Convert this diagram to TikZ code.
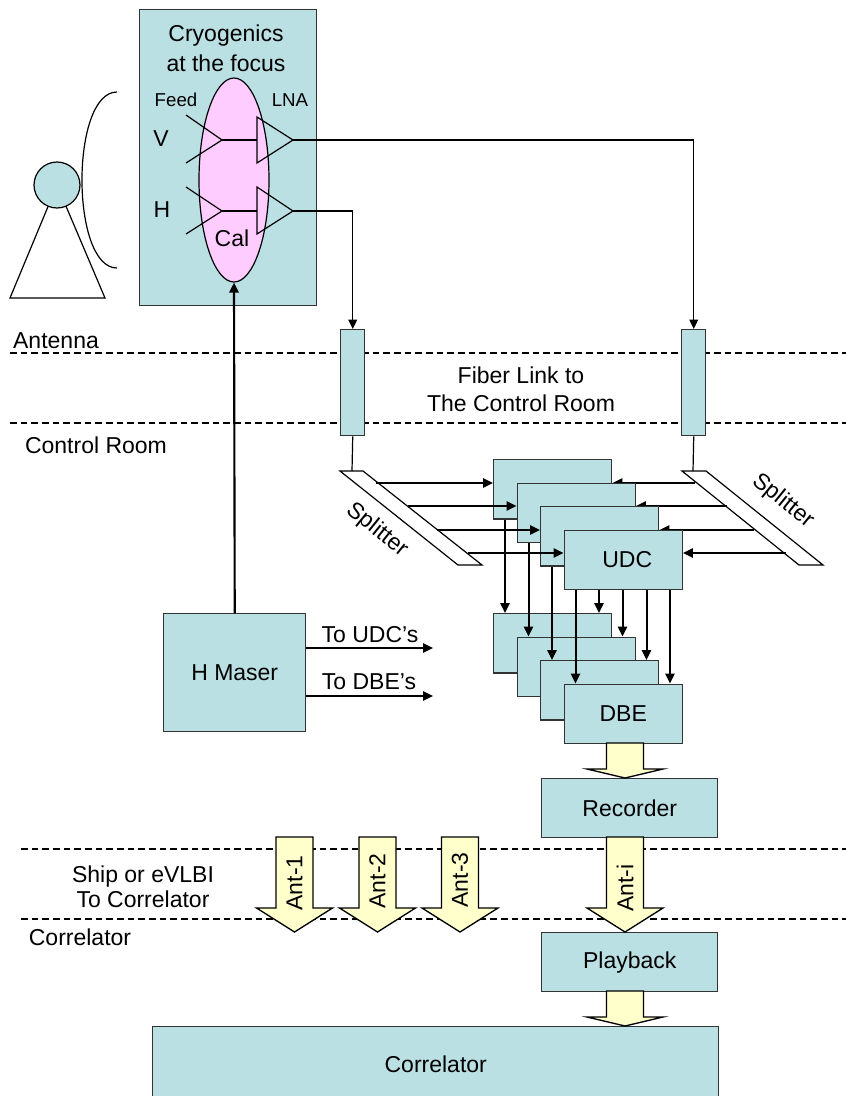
\documentclass[tikz,border=0pt]{standalone}
\usepackage{fontspec}
\setmainfont{Liberation Sans}
\usetikzlibrary{shapes.geometric,arrows.meta,calc}
\definecolor{boxblue}{HTML}{BBE0E3}
\definecolor{pinkc}{HTML}{FFCCFF}
\definecolor{yell}{HTML}{FFFFCC}
\definecolor{edgec}{HTML}{333333}
\newcommand\barrow[4]{\draw[yarrow] (#1-18.5,#2) -- (#1+18.5,#2) -- (#1+18.5,#3) -- (#1+38,#3) -- (#1,#4) -- (#1-38,#3) -- (#1-18.5,#3) -- cycle;}
\begin{document}
\begin{tikzpicture}[x=0.75pt,y=-0.75pt,
  box/.style={draw=edgec, line width=1.1pt, fill=boxblue, inner sep=0pt, anchor=north west, font=\fontsize{17.25}{20}\selectfont},
  lbl/.style={font=\fontsize{17.25}{21}\selectfont, inner sep=0pt, align=center},
  smalltxt/.style={font=\fontsize{14}{16}\selectfont, inner sep=0pt},
  arr/.style={line width=1.5pt, -{Triangle[length=7.5pt,width=7pt]}},
  tarr/.style={line width=1pt, -{Triangle[length=7pt,width=6.5pt]}},
  thinline/.style={line width=0.9pt},
  sepline/.style={line width=0.9pt, dash pattern=on 5pt off 3pt},
  yarrow/.style={draw=black, line width=1pt, fill=yell}
]
\useasboundingbox (0,0) rectangle (846,1096);

% separators
\draw[sepline] (10,353) -- (846,353);
\draw[sepline] (10,423) -- (846,423);
\draw[sepline] (21,849) -- (846,849);
\draw[sepline] (21,919) -- (846,919);

% region labels
\node[lbl] (lant) at (56,341) {Antenna};
\node[lbl] (lctrl) at (96,445) {Control Room};
\node[lbl, font=\fontsize{17.25}{18.75}\selectfont] (lship) at (143,887) {Ship or eVLBI\\To Correlator};
\node[lbl] (lcorr) at (80,937) {Correlator};
\node[lbl, font=\fontsize{17.25}{21}\selectfont] (lfiber) at (521,389) {Fiber Link to\\The Control Room};

% antenna
\coordinate (apex) at (57,185);
\draw[thinline] (10,298) -- (apex) -- (105,298) -- cycle;
\node[circle, draw=black, line width=0.9pt, fill=boxblue, minimum size=34.5pt, inner sep=0pt] (head) at (apex) {};
\draw[thinline] (117,92) .. controls (70.3,92) and (70.3,268) .. (117,268);

% cryogenics box
\node[box, minimum width=132.75pt, minimum height=222pt] (cryo) at (139,9) {};
\node[lbl, font=\fontsize{17.25}{22.5}\selectfont] (cryotxt) at (226,48) {Cryogenics\\at the focus};
\node[ellipse, draw=black, line width=0.9pt, fill=pinkc, minimum width=52.5pt, minimum height=153pt, inner sep=0pt] (cal) at (234,180) {};
\node[smalltxt] (feedtxt) at (176,100) {Feed};
\node[smalltxt] (lnatxt) at (290,100) {LNA};
\node[lbl] (vtxt) at (161,139) {V};
\node[lbl] (htxt) at (162,210) {H};
\node[lbl] (caltxt) at (232,238) {Cal};
% feeds and LNAs
\draw[thinline] (186,115) -- (222,140) -- (186,163);
\draw[thinline] (222,140) -- (257,140);
\draw[thinline] (257,117) -- (257,163) -- (293,140) -- cycle;
\draw[thinline] (186,187) -- (222,211) -- (186,234);
\draw[thinline] (222,211) -- (257,211);
\draw[thinline] (257,187) -- (257,234) -- (293,211) -- cycle;
\coordinate (lnaV) at (293,140);
\coordinate (lnaH) at (293,211);

% fiber link boxes
\node[box, minimum width=18pt, minimum height=79.5pt] (fibL) at (340,329) {};
\node[box, minimum width=18pt, minimum height=79.5pt] (fibR) at (681,329) {};
\draw[tarr] (lnaV) -| (fibR.north);
\draw[tarr] (lnaH) -| (fibL.north);

% splitters
\draw[thinline, fill=white] (340,471) -- (363,471) -- (482,565) -- (458,565) -- cycle;
\draw[thinline, fill=white] (682,471) -- (706,471) -- (823,565) -- (799,565) -- cycle;
\coordinate (lsTop) at (352,471);
\coordinate (rsTop) at (693,471);
\draw[thinline] (fibL.south) -- (lsTop);
\draw[thinline] (fibR.south) -- (rsTop);
\node[lbl, rotate=-39] (lsplit) at (377,530) {Splitter};
\node[lbl, rotate=-39] (rsplit) at (783,501) {Splitter};

\coordinate (ls1) at (376,483); \coordinate (rs1) at (695,483);
\coordinate (ls2) at (408,506); \coordinate (rs2) at (727,506);
\coordinate (ls3) at (437,530); \coordinate (rs3) at (754,530);
\coordinate (ls4) at (468,553); \coordinate (rs4) at (786,553);

% UDC stack
\node[box, minimum width=88.5pt, minimum height=44.6pt] (u1) at (493,459) {};
\draw[arr] (ls1) -- (ls1 -| u1.west);
\draw[arr] (rs1) -- (rs1 -| u1.east);
\node[box, minimum width=88.5pt, minimum height=44.6pt] (u2) at (516.5,482.5) {};
\draw[arr] (ls2) -- (ls2 -| u2.west);
\draw[arr] (rs2) -- (rs2 -| u2.east);
\node[box, minimum width=88.5pt, minimum height=44.6pt] (u3) at (540,506) {};
\draw[arr] (ls3) -- (ls3 -| u3.west);
\draw[arr] (rs3) -- (rs3 -| u3.east);
\node[box, minimum width=88.5pt, minimum height=44.6pt] (u4) at (563.5,529.5) {\hspace*{6pt}UDC};
\draw[arr] (ls4) -- (ls4 -| u4.west);
\draw[arr] (rs4) -- (rs4 -| u4.east);

% down connectors
\coordinate (a1) at ($(u1.south west)+(12,0)$);
\coordinate (a2) at ($(u2.south west)+(12,0)$);
\coordinate (a3) at ($(u3.south west)+(12,0)$);
\coordinate (a4) at ($(u4.south west)+(12,0)$);
\coordinate (b1) at ($(u4.south west)+(35.5,0)$);
\coordinate (b2) at ($(u4.south west)+(59,0)$);
\coordinate (b3) at ($(u4.south west)+(83,0)$);
\coordinate (b4) at ($(u4.south west)+(106.5,0)$);

% DBE stack
\node[box, minimum width=88.5pt, minimum height=44.6pt] (d1) at (493,613) {};
\draw[arr] (a1) -- (a1 |- d1.north);
\draw[arr] (b1) -- (b1 |- d1.north);
\node[box, minimum width=88.5pt, minimum height=44.6pt] (d2) at (516.5,636.5) {};
\draw[arr] (a2) -- (a2 |- d2.north);
\draw[arr] (b2) -- (b2 |- d2.north);
\node[box, minimum width=88.5pt, minimum height=44.6pt] (d3) at (540,660) {};
\draw[arr] (a3) -- (a3 |- d3.north);
\draw[arr] (b3) -- (b3 |- d3.north);
\node[box, minimum width=88.5pt, minimum height=44.6pt] (d4) at (563.5,683.5) {DBE};
\draw[arr] (a4) -- (a4 |- d4.north);
\draw[arr] (b4) -- (b4 |- d4.north);

% H maser
\node[box, minimum width=106.5pt, minimum height=88.5pt] (hm) at (163,613) {H Maser};
\draw[arr, line width=1.6pt] (hm.north) -- (cal.south);
\coordinate (tu) at (433,648);
\coordinate (td) at (433,696);
\draw[arr] (hm.east |- tu) -- (tu);
\draw[arr] (hm.east |- td) -- (td);
\node[lbl] (tutxt) at (370,635) {To UDC’s};
\node[lbl] (tdtxt) at (369,682) {To DBE’s};

% recorder, playback, correlator
\node[box, minimum width=132pt, minimum height=44.25pt] (rec) at (541,778) {Recorder};
\node[box, minimum width=132pt, minimum height=44.25pt] (play) at (541,932) {Playback};
\node[box, minimum width=424.5pt, minimum height=57pt] (corr) at (152,1026) {Correlator};

% block arrows
\barrow{625}{743}{769}{778}
\barrow{625}{837}{908}{932}
\barrow{625}{991}{1017}{1026}
\barrow{294.5}{837}{908}{932}
\barrow{377.5}{837}{908}{932}
\barrow{460}{837}{908}{932}
\node[lbl, rotate=90] (anti) at (625,888) {Ant-i};
\node[lbl, rotate=90] (ant1) at (294.5,883) {Ant-1};
\node[lbl, rotate=90] (ant2) at (377.5,881) {Ant-2};
\node[lbl, rotate=90] (ant3) at (460,880) {Ant-3};
\end{tikzpicture}
\end{document}
